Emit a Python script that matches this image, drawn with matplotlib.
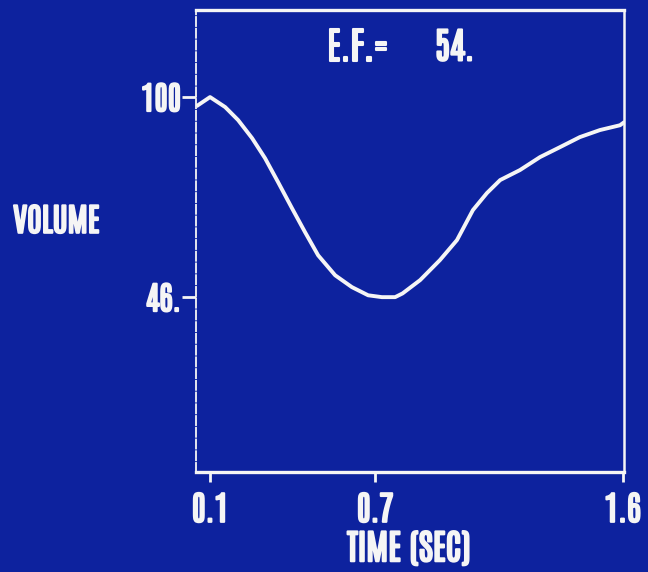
import matplotlib
matplotlib.use("Agg")
import matplotlib.pyplot as plt
import matplotlib.patheffects as pe
from matplotlib.ticker import FixedLocator, FixedFormatter

# Ventricular volume curve over one cardiac cycle
time_sec = [0.056, 0.100, 0.155, 0.202, 0.253, 0.300, 0.347, 0.398, 0.445,
            0.493, 0.555, 0.616, 0.675, 0.725, 0.773, 0.800, 0.864, 0.936,
            0.998, 1.056, 1.107, 1.155, 1.227, 1.300, 1.373, 1.445, 1.518,
            1.591, 1.602]
volume = [97.8, 100.0, 97.3, 93.8, 88.9, 83.5, 77.1, 70.0, 63.6,
          57.3, 51.9, 48.7, 46.5, 46.0, 46.0, 47.0, 50.6, 56.0,
          61.4, 69.5, 74.1, 77.6, 80.3, 83.8, 86.5, 89.2, 91.1,
          92.4, 93.0]

x_ticks = [0.1, 0.7, 1.6]
x_tick_labels = ["0.1", "0.7", "1.6"]
y_ticks = [46, 100]
y_tick_labels = ["46.", "100"]
ejection_fraction = "54."

BG = "#0d229e"
FG = "#f5f5f5"
FONT = ["Antonio", "DejaVu Sans"]
BOLD = [pe.withStroke(linewidth=1.5, foreground=FG)]

fig = plt.figure(figsize=(6.48, 5.72), dpi=100, facecolor=BG)
ax = fig.add_axes([0.3025, 0.1748, 0.6605, 0.8077], facecolor=BG)

ax.plot(time_sec, volume, color=FG, lw=2.8, solid_joinstyle="round")

ax.set_xlim(0.049, 1.6055)
ax.set_ylim(-1.2, 123.5)

for side in ("top", "bottom"):
    ax.spines[side].set_color(FG)
    ax.spines[side].set_linewidth(2.4)
ax.spines["right"].set_color(FG)
ax.spines["right"].set_linewidth(1.8)
ax.spines["left"].set_color(FG)
ax.spines["left"].set_linewidth(1.3)
ax.spines["left"].set_linestyle((0, (5, 1.5)))

ax.xaxis.set_major_locator(FixedLocator(x_ticks))
ax.xaxis.set_major_formatter(FixedFormatter(x_tick_labels))
ax.yaxis.set_major_locator(FixedLocator(y_ticks))
ax.yaxis.set_major_formatter(FixedFormatter(y_tick_labels))

ax.tick_params(axis="x", colors=FG, length=7, width=2, pad=8,
               labelsize=24)
ax.tick_params(axis="y", colors=FG, length=10, width=2, pad=1,
               labelsize=23)
for lbl in ax.get_xticklabels() + ax.get_yticklabels():
    lbl.set_fontfamily(FONT)
    lbl.set_path_effects(BOLD)

ax.set_xlabel("TIME (SEC)", color=FG, fontsize=25, family=FONT,
              path_effects=BOLD, va="center")
ax.xaxis.set_label_coords(0.498, -0.165)

fig.text(0.087, 0.614, "VOLUME", color=FG, fontsize=23, family=FONT,
         ha="center", va="center", path_effects=BOLD)

ax.text(0.306, 0.92, "E.F.=", transform=ax.transAxes,
        color=FG, fontsize=27, family=FONT, ha="left", va="center",
        path_effects=BOLD)
ax.text(0.558, 0.92, ejection_fraction, transform=ax.transAxes,
        color=FG, fontsize=26, family=FONT, ha="left", va="center",
        path_effects=BOLD)

fig.savefig("out.png", dpi=100, facecolor=BG)
